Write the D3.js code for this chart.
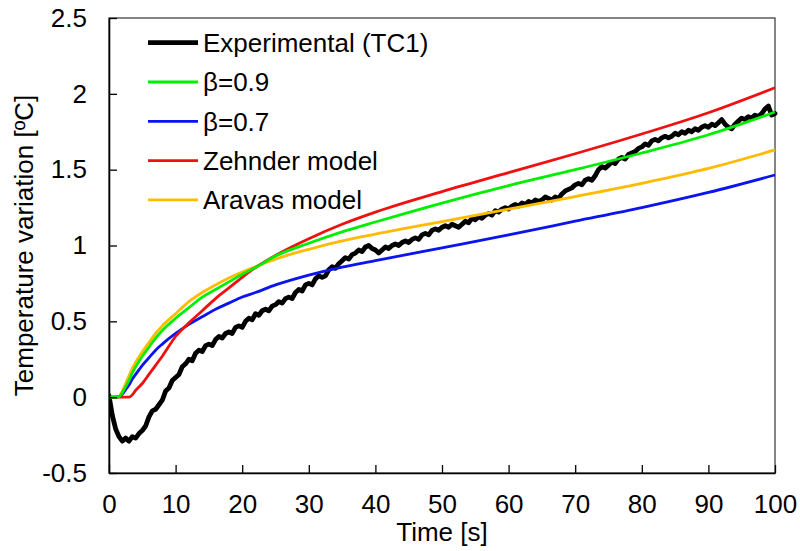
<!DOCTYPE html>
<html>
<head>
<meta charset="utf-8">
<script src="https://cdn.jsdelivr.net/npm/d3@7"></script>
<style>
  html, body { margin: 0; padding: 0; background: #fff; }
  svg { display: block; font-family: "Liberation Sans", Arial, sans-serif; }
</style>
</head>
<body>
<svg id="chart" width="800" height="551"></svg>
<script>
// ---------- data ----------
const xTicks = [0, 10, 20, 30, 40, 50, 60, 70, 80, 90, 100];
const yTicks = [-0.5, 0, 0.5, 1, 1.5, 2, 2.5];
const yTickLabels = ["-0.5", "0", "0.5", "1", "1.5", "2", "2.5"];

const seriesNames = ["Experimental (TC1)", "β=0.9", "β=0.7", "Zehnder model", "Aravas model"];
const seriesColors = ["#000000", "#00ee00", "#0a14ee", "#ee1111", "#ffbb00"];

// experimental, sampled every 0.5 s from 0 to 100 s
const expTime = d3.range(0, 100.001, 0.5);
const expValues = [
  0.01, -0.12, -0.21, -0.26, -0.29, -0.27, -0.29, -0.26, -0.27, -0.24,
  -0.22, -0.19, -0.13, -0.09, -0.08, -0.05, -0.02, 0.04, 0.06, 0.11,
  0.13, 0.15, 0.20, 0.22, 0.25, 0.24, 0.29, 0.31, 0.30, 0.34,
  0.35, 0.34, 0.38, 0.40, 0.39, 0.42, 0.43, 0.42, 0.46, 0.47,
  0.46, 0.50, 0.52, 0.51, 0.55, 0.54, 0.57, 0.58, 0.57, 0.60,
  0.61, 0.63, 0.62, 0.65, 0.66, 0.65, 0.69, 0.71, 0.70, 0.74,
  0.75, 0.74, 0.78, 0.80, 0.79, 0.80, 0.84, 0.86, 0.85, 0.88,
  0.90, 0.92, 0.91, 0.94, 0.95, 0.97, 0.96, 0.99, 1.00, 0.98,
  0.97, 0.95, 0.97, 0.99, 0.98, 1.00, 1.01, 1.00, 1.02, 1.03,
  1.02, 1.04, 1.05, 1.04, 1.07, 1.08, 1.07, 1.10, 1.11, 1.10,
  1.12, 1.13, 1.12, 1.14, 1.13, 1.12, 1.14, 1.16, 1.15, 1.18,
  1.17, 1.19, 1.18, 1.20, 1.21, 1.20, 1.23, 1.22, 1.24, 1.25,
  1.24, 1.26, 1.27, 1.26, 1.28, 1.27, 1.29, 1.28, 1.30, 1.29,
  1.30, 1.32, 1.31, 1.30, 1.32, 1.31, 1.34, 1.36, 1.37, 1.38,
  1.40, 1.41, 1.40, 1.43, 1.44, 1.43, 1.46, 1.50, 1.52, 1.51,
  1.53, 1.55, 1.54, 1.57, 1.58, 1.57, 1.60, 1.61, 1.62, 1.64,
  1.65, 1.67, 1.66, 1.69, 1.70, 1.69, 1.71, 1.72, 1.71, 1.72,
  1.74, 1.73, 1.75, 1.74, 1.76, 1.75, 1.77, 1.76, 1.78, 1.79,
  1.78, 1.80, 1.79, 1.81, 1.83, 1.80, 1.78, 1.77, 1.80, 1.82,
  1.84, 1.83, 1.85, 1.84, 1.86, 1.85, 1.87, 1.90, 1.92, 1.86,
  1.87
];

// model curves
const modelTime = [0, 1, 1.5, 2, 2.5, 3, 3.5, 4, 5, 6, 7, 8, 10, 12, 14, 16, 18, 20, 22, 25, 30, 35, 40, 50, 60, 70, 80, 90, 100];
const beta09 = [0, 0, 0.003, 0.03, 0.07, 0.11, 0.16, 0.2, 0.27, 0.33, 0.39, 0.44, 0.52, 0.59, 0.66, 0.71, 0.76, 0.81, 0.855, 0.93, 1.015, 1.09, 1.155, 1.28, 1.395, 1.50, 1.61, 1.73, 1.88];
const beta07 = [0, 0, 0.003, 0.02, 0.05, 0.08, 0.12, 0.15, 0.21, 0.26, 0.31, 0.35, 0.42, 0.48, 0.53, 0.58, 0.62, 0.66, 0.69, 0.74, 0.805, 0.858, 0.90, 0.985, 1.07, 1.16, 1.25, 1.35, 1.465];
const zehnder = [0, 0, 0, 0, 0, 0, 0.015, 0.045, 0.09, 0.15, 0.21, 0.27, 0.40, 0.49, 0.57, 0.65, 0.72, 0.79, 0.855, 0.935, 1.045, 1.14, 1.22, 1.355, 1.48, 1.605, 1.735, 1.875, 2.04];
const aravas = [0, 0, 0.005, 0.04, 0.09, 0.14, 0.19, 0.23, 0.30, 0.36, 0.42, 0.47, 0.55, 0.63, 0.69, 0.74, 0.785, 0.825, 0.86, 0.91, 0.975, 1.03, 1.075, 1.158, 1.24, 1.323, 1.41, 1.508, 1.63];

// ---------- drawing ----------
const svg = d3.select("#chart");
const W = 800, H = 551;
const plot = { left: 109, right: 775, top: 18, bottom: 473 };
const FONT = 26;

svg.append("rect").attr("width", W).attr("height", H).attr("fill", "#fff");

const x = d3.scaleLinear().domain([0, 100]).range([plot.left, plot.right]);
const y = d3.scaleLinear().domain([-0.5, 2.5]).range([plot.bottom, plot.top]);

// frame (top/right)
svg.append("rect")
  .attr("x", plot.left).attr("y", plot.top)
  .attr("width", plot.right - plot.left).attr("height", plot.bottom - plot.top)
  .attr("fill", "none").attr("stroke", "#444").attr("stroke-width", 1.3);

// clip
svg.append("clipPath").attr("id", "clip").append("rect")
  .attr("x", plot.left).attr("y", plot.top - 10)
  .attr("width", plot.right - plot.left + 3).attr("height", plot.bottom - plot.top + 10);

const lineGen = d3.line().x(d => x(d[0])).y(d => y(d[1]));
const curveGen = d3.line().x(d => x(d[0])).y(d => y(d[1])).curve(d3.curveMonotoneX);

const gLines = svg.append("g").attr("clip-path", "url(#clip)");
const models = [
  { vals: aravas, color: seriesColors[4] },
  { vals: beta07, color: seriesColors[2] },
  { vals: zehnder, color: seriesColors[3] },
  { vals: beta09, color: seriesColors[1] }
];

const expData = expTime.map((t, i) => [t, expValues[i]]);
gLines.append("path")
  .attr("d", lineGen(expData))
  .attr("fill", "none").attr("stroke", seriesColors[0])
  .attr("stroke-width", 4.8).attr("stroke-linejoin", "round").attr("stroke-linecap", "round");

models.forEach(m => {
  gLines.append("path")
    .attr("d", curveGen(modelTime.map((t, i) => [t, m.vals[i]])))
    .attr("fill", "none").attr("stroke", m.color)
    .attr("stroke-width", 2.8).attr("stroke-linejoin", "round");
});

// axes
const yAxis = d3.axisLeft(y).tickValues(yTicks).tickSizeInner(-8).tickSizeOuter(0)
  .tickFormat((d, i) => yTickLabels[i]).tickPadding(22);
const gy = svg.append("g").attr("transform", `translate(${plot.left},0)`).call(yAxis);
gy.select(".domain").attr("stroke", "#000").attr("stroke-width", 1.6);
gy.selectAll(".tick line").attr("stroke", "#000").attr("stroke-width", 1.3);
gy.selectAll(".tick text").attr("font-size", FONT).attr("fill", "#000")
  .attr("font-family", "Liberation Sans, Arial, sans-serif");

const xAxis = d3.axisBottom(x).tickValues(xTicks).tickSizeInner(-8).tickSizeOuter(0)
  .tickFormat(d3.format("d")).tickPadding(22);
const gx = svg.append("g").attr("transform", `translate(0,${plot.bottom})`).call(xAxis);
gx.select(".domain").attr("stroke", "#000").attr("stroke-width", 1.6);
gx.selectAll(".tick line").attr("stroke", "#000").attr("stroke-width", 1.3);
gx.selectAll(".tick text").attr("font-size", FONT).attr("fill", "#000")
  .attr("font-family", "Liberation Sans, Arial, sans-serif");

// axis titles
svg.append("text")
  .attr("x", x(50)).attr("y", 541)
  .attr("text-anchor", "middle").attr("font-size", FONT)
  .text("Time [s]");

svg.append("text")
  .attr("transform", `translate(33,${(plot.top + plot.bottom) / 2}) rotate(-90)`)
  .attr("text-anchor", "middle").attr("font-size", FONT)
  .text("Temperature variation [ºC]");

// legend
const legend = svg.append("g");
seriesNames.forEach((name, i) => {
  const cy = 42.7 + i * 39.3;
  legend.append("line")
    .attr("x1", 148).attr("x2", 198).attr("y1", cy).attr("y2", cy)
    .attr("stroke", seriesColors[i]).attr("stroke-width", i === 0 ? 4.8 : 2.8);
  legend.append("text")
    .attr("x", 203).attr("y", cy).attr("dy", "0.36em")
    .attr("font-size", FONT).attr("fill", "#000")
    .text(name);
});
</script>
</body>
</html>
